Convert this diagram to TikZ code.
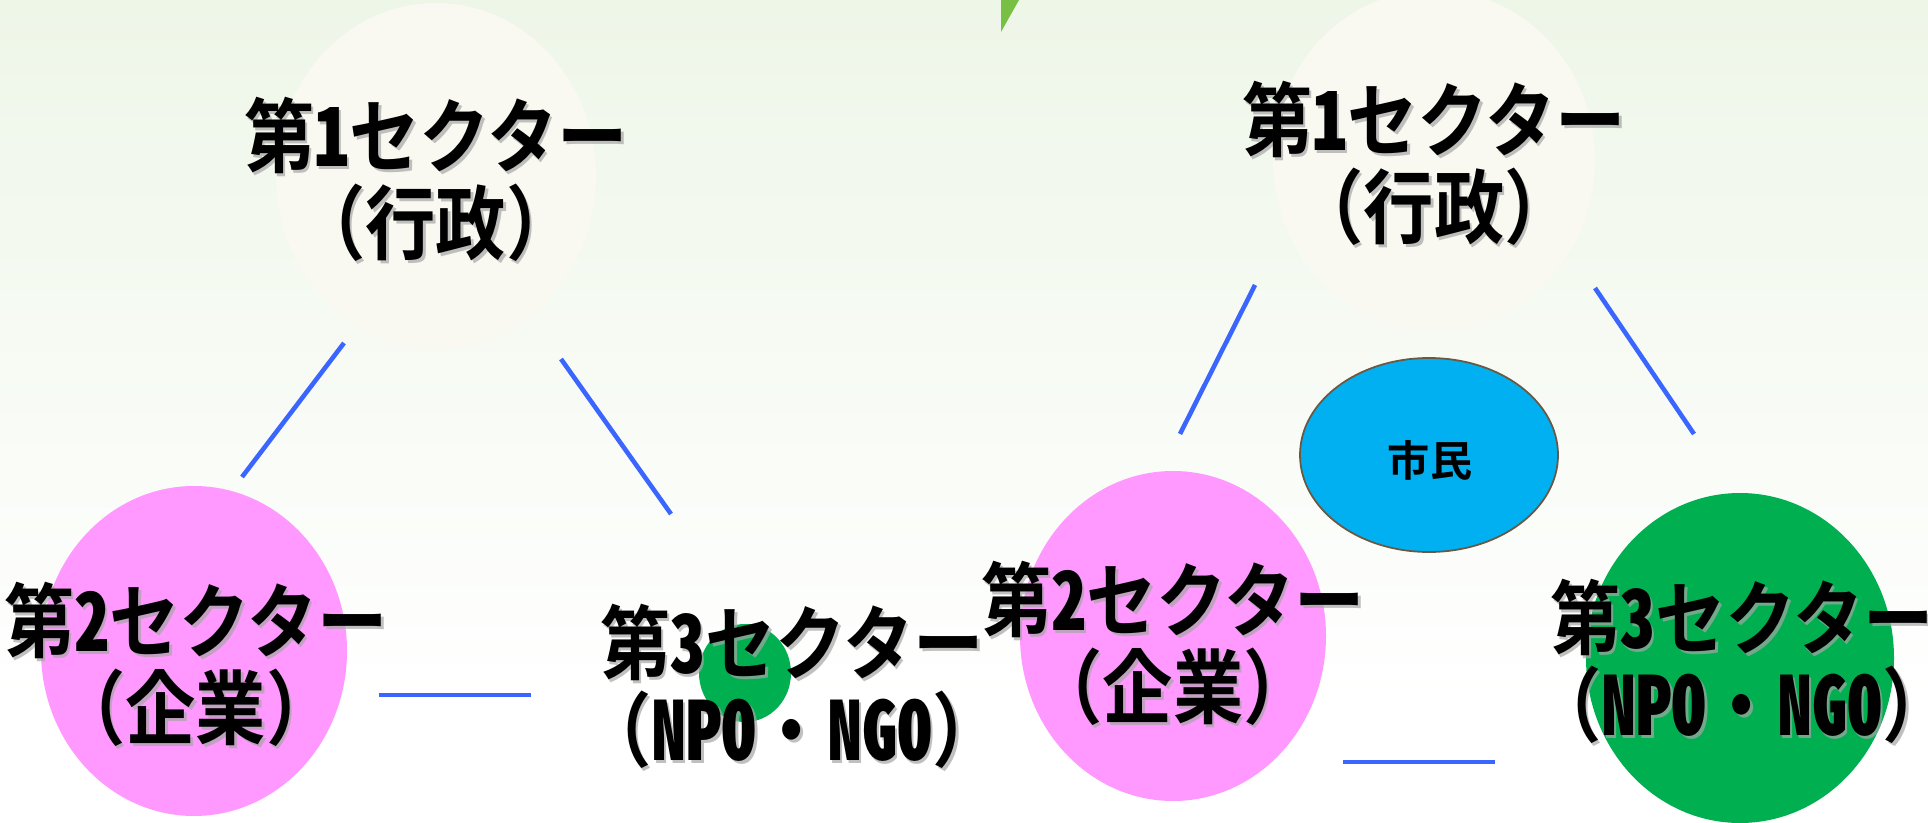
\documentclass[tikz,border=0pt]{standalone}
\usepackage{fontspec}
\usepackage{graphicx}
\setmainfont{Noto Sans CJK JP}[BoldFont={Noto Sans CJK JP Bold}]
\newfontfamily\hw{Noto Sans CJK JP Bold}[RawFeature=+hwid]
\definecolor{bgtop}{RGB}{238,246,232}
\definecolor{cream}{RGB}{249,249,241}
\definecolor{pinkf}{RGB}{255,153,255}
\definecolor{greenf}{RGB}{0,176,80}
\definecolor{cyanf}{RGB}{0,176,240}
\definecolor{brownd}{RGB}{107,88,67}
\definecolor{linec}{RGB}{58,102,255}
\definecolor{tri}{RGB}{119,192,67}
\tikzset{
  blob/.style={ellipse, inner sep=0pt, draw=none},
  conn/.style={draw=linec, line width=1.3pt},
  big/.style={align=center, inner sep=0pt, font=\bfseries\fontsize{20}{22}\selectfont},
  shad/.style={big, text=black!35, opacity=0.7}
}
\newcommand\twolines[2]{\scalebox{1.0}[1.15]{\begin{tabular}{@{}c@{}}#1\\[-2.3pt]#2\end{tabular}}}
\newcommand\seclabel[4]{%
  \node[shad] (#1s) at ($(#2)+(0.025,-0.025)$) {\twolines{#3}{#4}};
  \node[big] (#1) at (#2) {\twolines{#3}{#4}};}
\usetikzlibrary{shapes.geometric,calc}
\begin{document}
\begin{tikzpicture}
\useasboundingbox (0,0) rectangle (19.28,8.22);
\fill[white] (0,0) rectangle (19.28,8.22);
\shade[top color=bgtop, bottom color=white] (0,1.2) rectangle (19.28,8.22);
\fill[tri] (10.01,8.22) -- (10.19,8.22) -- (10.01,7.90) -- cycle;
% left diagram
\node[blob, fill=cream, minimum width=3.2cm, minimum height=3.46cm] (l1) at (4.36,6.46) {};
\node[blob, fill=pinkf, minimum width=3.06cm, minimum height=3.3cm] (l2) at (1.94,1.71) {};
\node[blob, fill=greenf, minimum width=0.92cm, minimum height=0.98cm] (l3) at (7.45,1.49) {};
% right diagram
\node[blob, fill=cream, minimum width=3.22cm, minimum height=3.4cm] (r1) at (14.34,6.62) {};
\node[blob, fill=pinkf, minimum width=3.06cm, minimum height=3.3cm] (r2) at (11.73,1.86) {};
\node[blob, fill=greenf, minimum width=3.08cm, minimum height=3.3cm] (r3) at (17.40,1.64) {};
\node[blob, fill=cyanf, draw=brownd, line width=0.5pt, minimum width=2.58cm, minimum height=1.94cm] (cit) at (14.29,3.67) {};
\node[font=\bfseries\fontsize{12}{14}\selectfont, inner sep=0pt] (citt) at (14.30,3.62) {市民};
% connectors
\coordinate (la1) at (3.44,4.79); \coordinate (la2) at (2.42,3.45);
\coordinate (lb1) at (5.61,4.63); \coordinate (lb2) at (6.71,3.08);
\coordinate (lc1) at (3.79,1.27); \coordinate (lc2) at (5.31,1.27);
\coordinate (ra1) at (12.55,5.37); \coordinate (ra2) at (11.80,3.88);
\coordinate (rb1) at (15.95,5.34); \coordinate (rb2) at (16.94,3.88);
\coordinate (rc1) at (13.43,0.60); \coordinate (rc2) at (14.95,0.60);
\draw[conn] (la1) -- (la2);
\draw[conn] (lb1) -- (lb2);
\draw[conn] (lc1) -- (lc2);
\draw[conn] (ra1) -- (ra2);
\draw[conn] (rb1) -- (rb2);
\draw[conn] (rc1) -- (rc2);
% labels
\coordinate (pl1) at (4.36,6.33);
\coordinate (pl2) at (1.96,1.48);
\coordinate (pl3) at (7.92,1.26);
\coordinate (pr1) at (14.34,6.49);
\coordinate (pr2) at (11.73,1.69);
\coordinate (pr3) at (17.42,1.51);
\seclabel{t1}{pl1}{第{\hw 1}セクター}{（行政）}
\seclabel{t2}{pl2}{第{\hw 2}セクター}{（企業）}
\seclabel{t3}{pl3}{第{\hw 3}セクター}{（{\hw NPO}・{\hw NGO}）}
\seclabel{u1}{pr1}{第{\hw 1}セクター}{（行政）}
\seclabel{u2}{pr2}{第{\hw 2}セクター}{（企業）}
\seclabel{u3}{pr3}{第{\hw 3}セクター}{（{\hw NPO}・{\hw NGO}）}
\end{tikzpicture}
\end{document}
